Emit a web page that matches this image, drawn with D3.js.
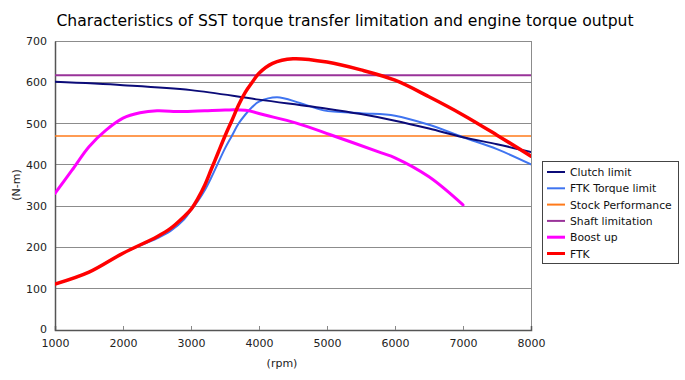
<!DOCTYPE html>
<html><head><meta charset="utf-8">
<script src="https://cdn.jsdelivr.net/npm/d3@7"></script>
<style>body{margin:0;background:#fff;}svg{display:block;font-family:"DejaVu Sans",Verdana,sans-serif;}</style>
</head><body><svg id="c" width="685" height="380"></svg>
<script>
const title = "Characteristics of SST torque transfer limitation and engine torque output";
const xTicks = [1000,2000,3000,4000,5000,6000,7000,8000];
const yTicks = [0,100,200,300,400,500,600,700];
const seriesNames = ["Clutch limit","FTK Torque limit","Stock Performance","Shaft limitation","Boost up","FTK"];
const seriesColors = ["#0b0b78","#3f74f0","#ff7a1a","#993399","#ff00ff","#ff0000"];
const seriesWidths = [2,2,1.5,2.2,3,3.5];

const clutchRpm = [1000,2000,3000,4000,5000,5500,6000,6500,7000,7500,8000];
const clutchVal = [601,593,581,558,536,523,507,488,467,450,431];
const ftkLimitRpm = [1000,1500,2000,2500,2700,2900,3000,3100,3200,3300,3400,3500,3600,3700,3800,3900,4000,4265,4600,4950,5500,6000,6500,7000,7500,8000];
const ftkLimitVal = [111,140,186,222,240,268,290,312,338,370,405,440,470,500,522,540,553,564,550,532,525,519,497,467,438,401];
const stockRpm = [1000,8000];
const stockVal = [470,470];
const shaftRpm = [1000,8000];
const shaftVal = [617,617];
const boostRpm = [1000,1250,1500,1750,2000,2250,2500,2850,3200,3500,3800,4100,4550,5050,5800,6000,6500,7000];
const boostVal = [331,387,444,484,513,526,531,529,531,533,532,520,501,473,429,417,371,303];
const ftkRpm = [1000,1500,2000,2500,2700,2900,3000,3100,3200,3300,3400,3500,3600,3700,3800,3900,4000,4200,4500,5000,5500,6000,6500,7000,7500,8000];
const ftkVal = [111,140,186,226,246,275,292,318,350,390,430,470,507,545,576,600,622,646,657,649,630,605,565,521,472,421];

const seriesData = [
  [clutchRpm,clutchVal],[ftkLimitRpm,ftkLimitVal],[stockRpm,stockVal],
  [shaftRpm,shaftVal],[boostRpm,boostVal],[ftkRpm,ftkVal]
];

const svg = d3.select("#c");
const L=55,R=531,T=41,B=330;
const x = d3.scaleLinear().domain([1000,8000]).range([L,R]);
const y = d3.scaleLinear().domain([0,700]).range([B,T]);

svg.append("text").attr("x",345).attr("y",26).attr("text-anchor","middle")
  .attr("font-size",15.6).attr("fill","#000").text(title);

// grid
svg.append("g").selectAll("line").data(yTicks.filter(d=>d>0&&d<700)).join("line")
  .attr("x1",L).attr("x2",R).attr("y1",d=>y(d)).attr("y2",d=>y(d))
  .attr("stroke","#8c8c8c").attr("stroke-width",1).attr("shape-rendering","crispEdges");
svg.append("rect").attr("x",L).attr("y",T).attr("width",R-L).attr("height",B-T)
  .attr("fill","none").attr("stroke","#8c8c8c").attr("shape-rendering","crispEdges");

const xAxis = svg.append("g").attr("transform",`translate(0,${B})`)
  .call(d3.axisBottom(x).tickValues(xTicks).tickFormat(d3.format("d")).tickSize(-4).tickPadding(9));
const yAxis = svg.append("g").attr("transform",`translate(${L},0)`)
  .call(d3.axisLeft(y).tickValues(yTicks).tickFormat(d3.format("d")).tickSize(0).tickPadding(8));
[xAxis,yAxis].forEach(a=>{
  a.selectAll("text").attr("font-size",11).attr("fill","#222").attr("font-family","DejaVu Sans, Verdana, sans-serif");
  a.select(".domain").attr("stroke","#555").attr("stroke-width",1.5);
  a.selectAll(".tick line").attr("stroke","#888");
});
xAxis.selectAll(".tick").filter(d=>d===1000||d===8000).select("line").remove();
yAxis.selectAll(".tick").filter(d=>d===0).select("text").attr("dy","0.2em");

svg.append("text").attr("x",282).attr("y",367).attr("text-anchor","middle").attr("font-size",11).attr("fill","#222").text("(rpm)");
svg.append("text").attr("transform","translate(20,185) rotate(-90)").attr("text-anchor","middle").attr("font-size",11).attr("fill","#222").text("(N-m)");

const line = d3.line().x(d=>x(d[0])).y(d=>y(d[1])).curve(d3.curveCatmullRom.alpha(0.5));
svg.append("clipPath").attr("id","pc").append("rect").attr("x",L).attr("y",T-3).attr("width",R-L).attr("height",B-T+3);
const g = svg.append("g").attr("clip-path","url(#pc)");
const order = [2,3,1,0,4,5];
order.forEach(i=>{
  const [xs,ys] = seriesData[i];
  g.append("path").datum(xs.map((v,k)=>[v,ys[k]])).attr("d",line)
    .attr("fill","none").attr("stroke",seriesColors[i]).attr("stroke-width",seriesWidths[i])
    .attr("stroke-linejoin","round").attr("stroke-linecap","round");
});

// legend
const lg = svg.append("g").attr("transform","translate(542,161)");
lg.append("rect").attr("x",0.5).attr("y",0.5).attr("width",136).attr("height",102).attr("fill","#fff").attr("stroke","#444").attr("stroke-width",1);
seriesNames.forEach((n,i)=>{
  const yy = 11+i*16.3;
  lg.append("line").attr("x1",5).attr("x2",23).attr("y1",yy).attr("y2",yy)
    .attr("stroke",seriesColors[i]).attr("stroke-width",i>=4?3:2);
  lg.append("text").attr("x",28).attr("y",yy+4).attr("font-size",10.8).attr("fill","#111").text(n);
});
</script></body></html>
